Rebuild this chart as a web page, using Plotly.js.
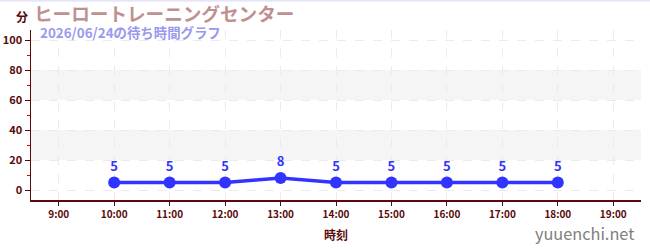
<!DOCTYPE html>
<html><head><meta charset="utf-8">
<script src="https://cdn.plot.ly/plotly-3.0.1.min.js"></script>
<style>html,body{margin:0;padding:0;background:#fff}#chart{width:650px;height:250px}</style>
</head><body><div id="chart"></div>
<script>
const hours = [10, 11, 12, 13, 14, 15, 16, 17, 18];
const waits = [5, 5, 5, 8, 5, 5, 5, 5, 5];
const tickHours = [9, 10, 11, 12, 13, 14, 15, 16, 17, 18, 19];
const tickLabels = ['9:00','10:00','11:00','12:00','13:00','14:00','15:00','16:00','17:00','18:00','19:00'];
const bands = [[20, 40], [60, 80]];
const titleText = 'ヒーロートレーニングセンター';
const subtitleText = '2026/06/24の待ち時間グラフ';

const F = '"Noto Sans CJK JP", "Noto Sans", sans-serif';
const dark = '#5a0a0a';
const shapes = bands.map(b => ({type:'rect', xref:'paper', yref:'y', x0:0, x1:1, y0:b[0], y1:b[1], fillcolor:'#f5f5f5', line:{width:0}, layer:'below'}));
shapes.push({type:'line', xref:'paper', yref:'paper', x0:-0.1, x1:1.1, y0:1.172, y1:1.172, line:{color:'#e6e6fa', width:2}});

const trace = {
  x: hours, y: waits, type:'scatter', mode:'lines+markers+text',
  text: waits.map(String), textposition:'top center',
  textfont:{family:F, size:13, color:'#3333ff', weight:'bold'},
  line:{color:'#3333ff', width:3.5},
  marker:{color:'#3333ff', size:12},
  cliponaxis:false, hoverinfo:'none'
};
const layout = {
  width:650, height:250,
  margin:{l:31, r:9, t:30, b:50},
  paper_bgcolor:'#fff', plot_bgcolor:'#fff',
  showlegend:false,
  font:{family:F},
  xaxis:{
    range:[8.5, 19.5], tickvals:tickHours, ticktext:tickLabels,
    tickfont:{family:F, size:10, color:dark, weight:'bold'},
    ticks:'outside', ticklen:4, tickcolor:dark,
    showline:true, linecolor:dark, linewidth:1.5,
    showgrid:true, gridcolor:'#ebebeb', griddash:'dash', gridwidth:1,
    zeroline:false, fixedrange:true,
    title:{text:'時刻', font:{family:F, size:12, color:dark, weight:'bold'}, standoff:12}
  },
  yaxis:{
    range:[-6.67, 106.67], tickvals:[0,20,40,60,80,100],
    tickfont:{family:F, size:11, color:dark, weight:'bold'},
    ticks:'outside', ticklen:5, tickcolor:dark,
    minor:{tickvals:[10,30,50,70,90], ticks:'outside', ticklen:3, tickcolor:'#dd0000', showgrid:false},
    showline:true, linecolor:dark, linewidth:1.5,
    showgrid:true, gridcolor:'#ebebeb', griddash:'dash', gridwidth:1,
    zeroline:false, fixedrange:true
  },
  shapes: shapes,
  annotations:[
    {xref:'paper', yref:'paper', x:-0.028, y:1.082, xanchor:'left', yanchor:'middle', text:'分', showarrow:false, font:{family:F, size:12, color:dark, weight:'bold'}},
    {xref:'paper', yref:'paper', x:0.004, y:1.101, xanchor:'left', yanchor:'middle', borderpad:0, text:titleText, showarrow:false, font:{family:F, size:18.6, color:'#c09090', weight:'bold'}},
    {xref:'paper', yref:'paper', x:0.013, y:0.987, xanchor:'left', yanchor:'middle', borderpad:0, text:subtitleText, showarrow:false, font:{family:F, size:13.4, color:'#9999ee', weight:'bold'}},
    {xref:'paper', yref:'paper', x:0.992, y:-0.194, xanchor:'right', yanchor:'middle', text:'yuuenchi.net', showarrow:false, font:{family:F, size:16.3, color:'#808080'}}
  ]
};
Plotly.newPlot('chart', [trace], layout, {staticPlot:true, displayModeBar:false});
</script></body></html>
